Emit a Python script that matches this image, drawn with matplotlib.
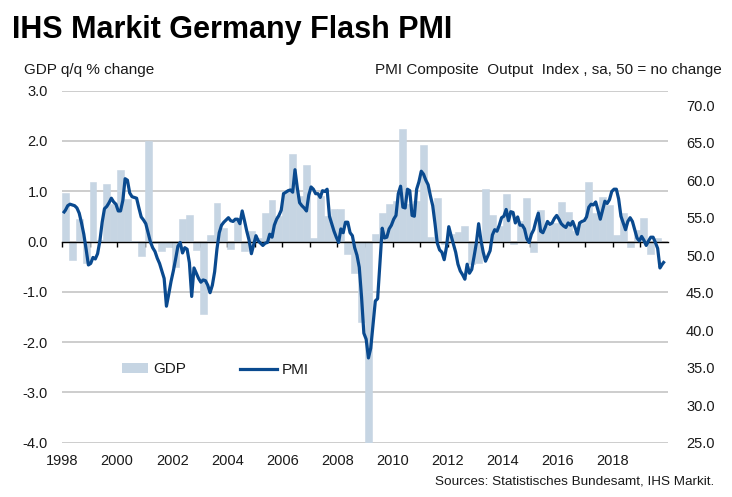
import matplotlib
matplotlib.use("Agg")
import matplotlib.pyplot as plt
from matplotlib import font_manager
from matplotlib.patches import Patch
from matplotlib.lines import Line2D

# ---------------- data ----------------
title = "IHS Markit Germany Flash PMI"
left_title = "GDP q/q % change"
right_title = "PMI Composite  Output  Index , sa, 50 = no change"
source_text = "Sources: Statistisches Bundesamt, IHS Markit."
legend_gdp = "GDP"
legend_pmi = "PMI"

start_year = 1998
end_year = 2020          # axis runs Jan 1998 .. Dec 2019

# GDP q/q %, quarterly from 1998 Q1 to 2019 Q3
gdp = [
    0.96, -0.36, 0.45, -0.42,    # 1998
    1.18, 0.03, 1.14, 0.75,      # 1999
    1.43, 0.84, 0.02, -0.28,     # 2000
    2.00, -0.03, -0.18, -0.10,   # 2001
    -0.50, 0.44, 0.52, -0.17,    # 2002
    -1.44, 0.13, 0.77, 0.27,     # 2003
    -0.15, 0.47, -0.18, 0.20,    # 2004
    0.08, 0.56, 0.83, 0.50,      # 2005
    1.00, 1.74, 0.90, 1.52,      # 2006
    0.07, 0.90, 0.50, 0.65,      # 2007
    0.65, -0.25, -0.62, -1.60,   # 2008
    -4.00, 0.15, 0.57, 0.75,     # 2009
    0.80, 2.24, 0.75, 0.80,      # 2010
    1.93, 0.10, 0.87, -0.05,     # 2011
    0.15, 0.19, 0.30, -0.45,     # 2012
    -0.42, 1.04, 0.53, 0.30,     # 2013
    0.95, -0.05, 0.40, 0.87,     # 2014
    -0.20, 0.63, 0.30, 0.37,     # 2015
    0.79, 0.58, 0.20, 0.37,      # 2016
    1.19, 0.57, 0.88, 0.73,      # 2017
    0.13, 0.57, -0.11, 0.22,     # 2018
    0.47, -0.25, 0.07,           # 2019
]

# PMI composite output index, monthly from Jan 1998 to Nov 2019
pmi = [
    55.6, 56.0, 56.6, 56.8, 56.7, 56.6, 56.3, 55.6, 54.3, 52.8, 50.8, 48.7,  # 1998
    48.9, 49.7, 49.5, 50.2, 51.9, 54.4, 56.2, 56.5, 57.0, 57.6, 57.1, 56.8,  # 1999
    55.9, 55.9, 57.3, 60.2, 60.0, 58.3, 57.8, 57.7, 57.6, 56.3, 55.1, 54.7,  # 2000
    54.2, 53.0, 51.8, 51.0, 50.5, 49.6, 48.9, 47.9, 46.9, 43.2, 44.8, 46.5,  # 2001
    47.9, 49.5, 51.2, 51.7, 50.3, 51.0, 50.8, 49.0, 44.5, 48.3, 47.6, 46.9,  # 2002
    46.4, 46.7, 46.6, 46.0, 45.0, 46.0, 47.8, 50.8, 53.0, 54.0, 54.4, 54.7,  # 2003
    55.0, 54.6, 54.5, 54.8, 54.8, 54.2, 55.9, 54.6, 53.2, 52.0, 50.2, 51.4,  # 2004
    52.6, 51.9, 51.6, 51.3, 51.6, 51.7, 52.8, 52.4, 54.0, 54.8, 55.3, 56.0,  # 2005
    58.2, 58.4, 58.6, 58.7, 58.4, 61.4, 59.0, 57.0, 56.6, 56.3, 55.9, 58.0,  # 2006
    59.1, 58.8, 58.2, 58.2, 57.7, 58.6, 58.5, 58.8, 55.2, 54.2, 53.2, 52.4,  # 2007
    51.7, 53.5, 53.0, 54.4, 54.4, 53.0, 52.6, 51.0, 50.0, 48.4, 44.4, 39.6,  # 2008
    38.8, 36.3, 37.6, 40.8, 43.9, 44.2, 48.8, 53.6, 52.3, 52.4, 53.5, 54.0,  # 2009
    54.8, 55.3, 58.2, 59.2, 56.4, 56.3, 58.8, 58.6, 55.3, 55.2, 58.8, 59.8,  # 2010
    61.2, 60.8, 60.0, 59.4, 57.9, 56.6, 54.2, 51.6, 50.7, 50.4, 49.4, 51.1,  # 2011
    53.8, 52.6, 51.5, 50.4, 48.8, 47.9, 47.4, 46.8, 48.8, 47.6, 48.1, 49.8,  # 2012
    51.6, 54.2, 52.0, 50.4, 49.2, 49.9, 50.6, 52.7, 53.4, 53.2, 54.0, 55.0,  # 2013
    55.2, 56.1, 54.6, 55.8, 55.7, 54.3, 55.1, 54.0, 54.0, 53.5, 52.2, 51.7,  # 2014
    52.8, 53.4, 54.6, 55.6, 53.2, 53.0, 53.7, 54.5, 54.1, 54.3, 54.9, 55.3,  # 2015
    54.8, 54.2, 53.9, 53.7, 54.3, 54.0, 54.5, 53.7, 52.8, 54.3, 54.5, 54.6,  # 2016
    55.1, 56.4, 56.8, 56.7, 57.1, 56.0, 54.8, 56.0, 57.2, 56.9, 57.4, 58.5,  # 2017
    58.8, 58.8, 57.5, 55.2, 54.3, 53.4, 54.5, 55.0, 54.5, 53.4, 52.3, 51.9,  # 2018
    52.5, 52.0, 51.3, 51.9, 52.4, 52.4, 51.7, 50.9, 48.3, 48.8, 49.2,        # 2019
]

gdp_ticks = [-4, -3, -2, -1, 0, 1, 2, 3]
pmi_ticks = [25, 30, 35, 40, 45, 50, 55, 60, 65, 70]
year_labels = list(range(1998, 2019, 2))

# ---------------- style ----------------
bar_color = "#c6d5e3"
line_color = "#0a4a8f"
grid_color = "#c0c0c0"
text_color = "#1a1a1a"

names = {f.name for f in font_manager.fontManager.ttflist}
has_narrow = "Liberation Sans Narrow" in names
plt.rcParams["font.family"] = ["Liberation Sans", "DejaVu Sans"]

W, H = 732, 497
fig = plt.figure(figsize=(W / 100, H / 100), dpi=100)
L, R, T, B = 62, 668, 90.7, 442.7
ax = fig.add_axes([L / W, 1 - B / H, (R - L) / W, (B - T) / H])
ax2 = ax.twinx()

n_months = (end_year - start_year) * 12

# GDP bars (each quarter spans its three months)
qx = [3 * i for i in range(len(gdp))]
ax.bar(qx, gdp, width=3, align="edge", color=bar_color, edgecolor=bar_color,
       linewidth=0.4, zorder=2)
ax.set_xlim(0, n_months)
ax.set_ylim(gdp_ticks[0], gdp_ticks[-1])
ax.set_yticks(gdp_ticks, [f"{v:.1f}" for v in gdp_ticks])
ax.grid(axis="y", color=grid_color, linewidth=1.1, zorder=0)
ax.grid(axis="x", visible=False)
ax.set_axisbelow(True)
for s in ["top", "right", "left"]:
    ax.spines[s].set_visible(False)
ax.spines["bottom"].set_position(("data", 0))
ax.spines["bottom"].set_color("black")
ax.spines["bottom"].set_linewidth(1.0)
ax.spines["bottom"].set_zorder(3)
ax.set_xticks([12 * y for y in range(end_year - start_year)])
ax.tick_params(axis="x", direction="out", length=3.5, width=1.0, color="black",
               labelbottom=False)
ax.tick_params(axis="y", length=0, pad=10, labelsize=10.5, labelcolor=text_color)

sec = ax.secondary_xaxis("bottom")
sec.set_xticks([12 * (y - start_year) for y in year_labels], [str(y) for y in year_labels])
sec.tick_params(length=0, pad=8, labelsize=10.5, labelcolor=text_color)
sec.spines["bottom"].set_visible(False)

# PMI line (right axis)
px = [k + 0.5 for k in range(len(pmi))]
ax2.plot(px, pmi, color=line_color, linewidth=2.3, solid_joinstyle="round",
         solid_capstyle="butt", zorder=3)
ax2.set_ylim(25, 25 + (B - T) / 7.5)
ax2.set_yticks(pmi_ticks, [f"{v:.1f}" for v in pmi_ticks])
ax2.tick_params(axis="y", length=0, pad=13, labelsize=10.5, labelcolor=text_color)
for s in ax2.spines.values():
    s.set_visible(False)
ax2.set_xlim(0, n_months)

# legends
ax.legend(handles=[Patch(facecolor=bar_color, edgecolor="none", label=legend_gdp)],
          loc="center left", bbox_to_anchor=((122 - L) / (R - L), (B - 369) / (B - T)),
          frameon=False, borderpad=0, borderaxespad=0, handlelength=1.7,
          handleheight=0.65, handletextpad=0.35, fontsize=11, labelcolor=text_color)
ax2.legend(handles=[Line2D([], [], color=line_color, linewidth=2.3, label=legend_pmi)],
           loc="center left", bbox_to_anchor=((240 - L) / (R - L), (B - 370) / (B - T)),
           frameon=False, borderpad=0, borderaxespad=0, handlelength=2.45,
           handletextpad=0.3, fontsize=11, labelcolor=text_color)

# texts
if has_narrow:
    fig.text(12 / W, 1 - 38 / H, title, family=["Liberation Sans Narrow", "Liberation Sans"],
             weight="bold", fontsize=26, va="baseline", ha="left", color="black")
else:
    fig.text(12 / W, 1 - 38 / H, title, family=["Liberation Sans", "DejaVu Sans"],
             weight="bold", fontsize=22, va="baseline", ha="left", color="black")
fig.text(24 / W, 1 - 70 / H, left_title, fontsize=11, va="center", ha="left", color=text_color)
fig.text(722 / W, 1 - 70 / H, right_title, fontsize=11, va="center", ha="right", color=text_color)
fig.text(714 / W, 1 - 482 / H, source_text, fontsize=9.7, va="center", ha="right", color=text_color)

fig.savefig("out.png", dpi=100)
